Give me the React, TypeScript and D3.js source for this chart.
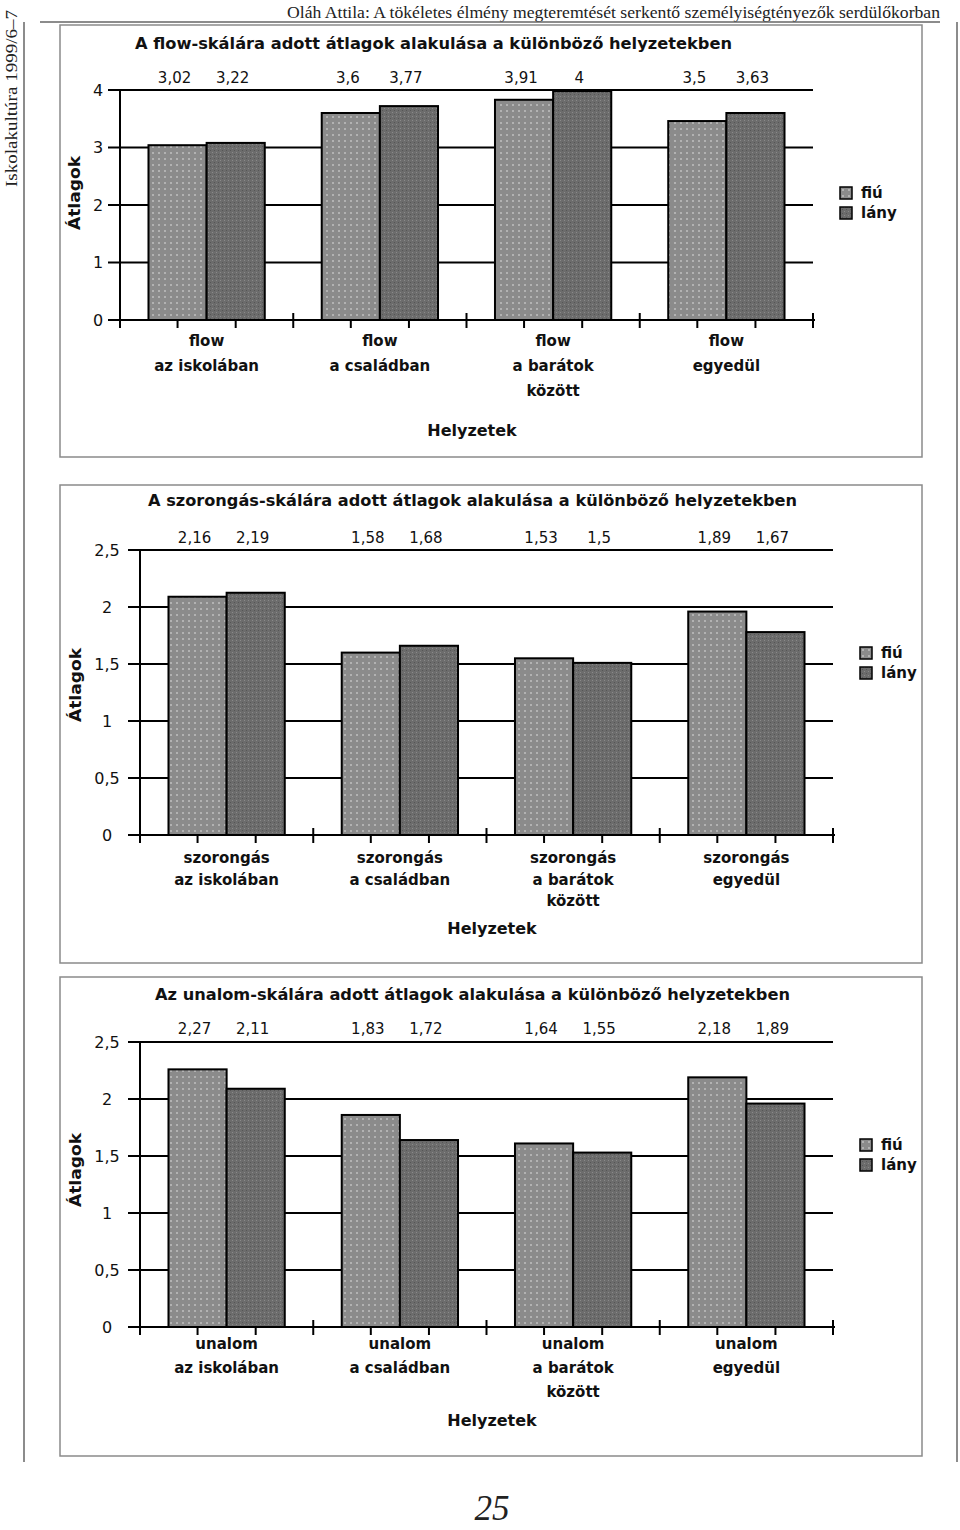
import React from 'react';
import { scaleBand, scaleLinear } from 'd3';

// helyzetek (x categories), split into the printed lines
const situations = ['iskola', 'csalad', 'baratok', 'egyedul'];
const situationLines = [['az iskolában'], ['a családban'], ['a barátok', 'között'], ['egyedül']];
const seriesNames = ['fiú', 'lány'];

// flow scale: bar heights as drawn, labels as printed
const flowFiu = [3.04, 3.6, 3.83, 3.46];
const flowLany = [3.08, 3.72, 3.98, 3.6];
const flowFiuLabels = ['3,02', '3,6', '3,91', '3,5'];
const flowLanyLabels = ['3,22', '3,77', '4', '3,63'];
const flowTicks = [0, 1, 2, 3, 4];

// szorongás scale
const szorFiu = [2.09, 1.6, 1.55, 1.96];
const szorLany = [2.125, 1.66, 1.51, 1.78];
const szorFiuLabels = ['2,16', '1,58', '1,53', '1,89'];
const szorLanyLabels = ['2,19', '1,68', '1,5', '1,67'];

// unalom scale
const unalFiu = [2.26, 1.86, 1.61, 2.19];
const unalLany = [2.09, 1.64, 1.53, 1.96];
const unalFiuLabels = ['2,27', '1,83', '1,64', '2,18'];
const unalLanyLabels = ['2,11', '1,72', '1,55', '1,89'];
const halfTicks = [0, 0.5, 1, 1.5, 2, 2.5];

const chartFont = '"DejaVu Sans", Verdana, sans-serif';
const pageFont = '"Liberation Serif", "Times New Roman", serif';

interface iChart {
    box: [number, number, number, number],
    title: string, titleX: [number, number], titleY: number,
    prefix: string,
    ticks: number[], yMax: number,
    x0: number, x1: number, yBottom: number, yTop: number, tickLabelX: number, tickFont: number,
    fiu: number[], lany: number[], fiuLabels: string[], lanyLabels: string[], labelY: number,
    catY: number, catLH: number, axisTitle: [number, number], yTitle: [number, number],
    legend: [number, number]
}

const BarChart = (props: iChart) => {
    const [bx, by, bw, bh] = props.box;
    const x = scaleBand<string>().domain(situations).range([props.x0, props.x1]).padding(0);
    const inner = scaleBand<string>().domain(seriesNames).range([0, x.bandwidth()]).paddingInner(0).paddingOuter(0.49);
    const y = scaleLinear().domain([0, props.yMax]).range([props.yBottom, props.yTop]);
    const fmt = (d: number) => String(d).replace('.', ',');
    const values = [props.fiu, props.lany];
    const labels = [props.fiuLabels, props.lanyLabels];
    const fills = ['url(#pFiu)', 'url(#pLany)'];

    return (
        <g fontFamily={chartFont} fontWeight="bold" fill="#111">
            <rect x={bx} y={by} width={bw} height={bh} fill="white" stroke="#8a8a8a" strokeWidth={1.5} />
            <text x={props.titleX[0]} y={props.titleY} fontSize={15} textLength={props.titleX[1] - props.titleX[0]} lengthAdjust="spacingAndGlyphs">{props.title}</text>

            {/* gridlines behind bars */}
            {props.ticks.map(t => (
                <g key={t}>
                    <line x1={props.x0 - 12} x2={t == 0 ? props.x1 + 2 : props.x1} y1={y(t)} y2={y(t)} stroke="black" strokeWidth={2} />
                    <text x={props.tickLabelX} y={y(t)} dy="0.35em" textAnchor="middle" fontSize={props.tickFont} fontWeight="normal">{fmt(t)}</text>
                </g>
            ))}
            <line x1={props.x0} x2={props.x0} y1={props.yTop} y2={props.yBottom + 8} stroke="black" strokeWidth={2} />

            {situations.map((s, i) => (
                <g key={s}>
                    {seriesNames.map((n, j) => (
                        <rect key={n} x={x(s) + inner(n)} y={y(values[j][i])} width={inner.bandwidth()} height={props.yBottom - y(values[j][i])}
                            fill={fills[j]} stroke="black" strokeWidth={2} />
                    ))}
                    {seriesNames.map((n, j) => (
                        <text key={n} x={x(s) + inner(n) + inner.bandwidth() / 2 - 3} y={props.labelY} textAnchor="middle" fontSize={15} fontWeight="normal">{labels[j][i]}</text>
                    ))}
                    {seriesNames.map(n => (
                        <line key={n} x1={x(s) + inner(n) + inner.bandwidth() / 2} x2={x(s) + inner(n) + inner.bandwidth() / 2} y1={props.yBottom} y2={props.yBottom + 8} stroke="black" strokeWidth={2} />
                    ))}
                    <line x1={x(s) + x.bandwidth()} x2={x(s) + x.bandwidth()} y1={props.yBottom - 7} y2={props.yBottom + 8} stroke="black" strokeWidth={2} />
                    {[props.prefix, ...situationLines[i]].map((l, k) => (
                        <text key={k} x={x(s) + x.bandwidth() / 2} y={props.catY + k * props.catLH} textAnchor="middle" fontSize={15}>{l}</text>
                    ))}
                </g>
            ))}

            <text x={props.axisTitle[0]} y={props.axisTitle[1]} textAnchor="middle" fontSize={16}>Helyzetek</text>
            <text transform={`translate(${props.yTitle[0]},${props.yTitle[1]}) rotate(-90)`} dy="0.35em" textAnchor="middle" fontSize={16} textLength={74} lengthAdjust="spacingAndGlyphs">Átlagok</text>

            {seriesNames.map((n, j) => (
                <g key={n} transform={`translate(${props.legend[0]},${props.legend[1] + j * 20})`}>
                    <rect x={0} y={0} width={12} height={12} fill={fills[j]} stroke="black" strokeWidth={1.5} />
                    <text x={21} y={11} fontSize={15}>{n}</text>
                </g>
            ))}
        </g>
    );
}

const App = () => {
    return (
        <svg width={960} height={1530} style={{ position: 'absolute', left: 0, top: 0, background: 'white' }}>
            <defs>
                <pattern id="pFiu" width={6} height={6} patternUnits="userSpaceOnUse">
                    <rect width={6} height={6} fill="#8b8b8b" />
                    <rect x={2} y={2} width={2} height={2} fill="#b2b2b2" />
                </pattern>
                <pattern id="pLany" width={4} height={4} patternUnits="userSpaceOnUse">
                    <rect width={4} height={4} fill="#6c6c6c" />
                    <rect x={0} y={0} width={1} height={1} fill="#8a8a8a" />
                    <rect x={2} y={2} width={1} height={1} fill="#555" />
                </pattern>
            </defs>
            <rect width={960} height={1530} fill="white" />

            {/* page furniture */}
            <text x={940} y={18} textAnchor="end" fontFamily={pageFont} fontSize={17} fill="#222" textLength={653} lengthAdjust="spacingAndGlyphs">Oláh Attila: A tökéletes élmény megteremtését serkentő személyiségtényezők serdülőkorban</text>
            <line x1={40} x2={940} y1={22} y2={22} stroke="#666" strokeWidth={1.5} />
            <text transform="translate(17,187) rotate(-90)" fontFamily={pageFont} fontSize={16} fill="#222" textLength={177} lengthAdjust="spacingAndGlyphs">Iskolakultúra 1999/6–7</text>
            <line x1={24} x2={24} y1={22} y2={1462} stroke="#666" strokeWidth={1.5} />
            <line x1={957} x2={957} y1={22} y2={1462} stroke="#666" strokeWidth={1.5} />
            <text x={492} y={1520} textAnchor="middle" fontFamily={pageFont} fontStyle="italic" fontSize={35} fill="#222">25</text>

            <BarChart box={[60, 25, 862, 432]} title="A flow-skálára adott átlagok alakulása a különböző helyzetekben" titleX={[135, 732]} titleY={49}
                prefix="flow" ticks={flowTicks} yMax={4} x0={120} x1={813} yBottom={320} yTop={90} tickLabelX={98} tickFont={16}
                fiu={flowFiu} lany={flowLany} fiuLabels={flowFiuLabels} lanyLabels={flowLanyLabels} labelY={83}
                catY={346} catLH={25} axisTitle={[472, 436]} yTitle={[74, 193]} legend={[840, 187]} />

            <BarChart box={[60, 485, 862, 478]} title="A szorongás-skálára adott átlagok alakulása a különböző helyzetekben" titleX={[148, 797]} titleY={506}
                prefix="szorongás" ticks={halfTicks} yMax={2.5} x0={140} x1={833} yBottom={835} yTop={550} tickLabelX={107} tickFont={16}
                fiu={szorFiu} lany={szorLany} fiuLabels={szorFiuLabels} lanyLabels={szorLanyLabels} labelY={543}
                catY={863} catLH={21.5} axisTitle={[492, 934]} yTitle={[75, 685]} legend={[860, 647]} />

            <BarChart box={[60, 977, 862, 479]} title="Az unalom-skálára adott átlagok alakulása a különböző helyzetekben" titleX={[155, 790]} titleY={1000}
                prefix="unalom" ticks={halfTicks} yMax={2.5} x0={140} x1={833} yBottom={1327} yTop={1042} tickLabelX={107} tickFont={16}
                fiu={unalFiu} lany={unalLany} fiuLabels={unalFiuLabels} lanyLabels={unalLanyLabels} labelY={1034}
                catY={1349} catLH={24} axisTitle={[492, 1426]} yTitle={[75, 1170]} legend={[860, 1139]} />
        </svg>
    );
}

export default App;
